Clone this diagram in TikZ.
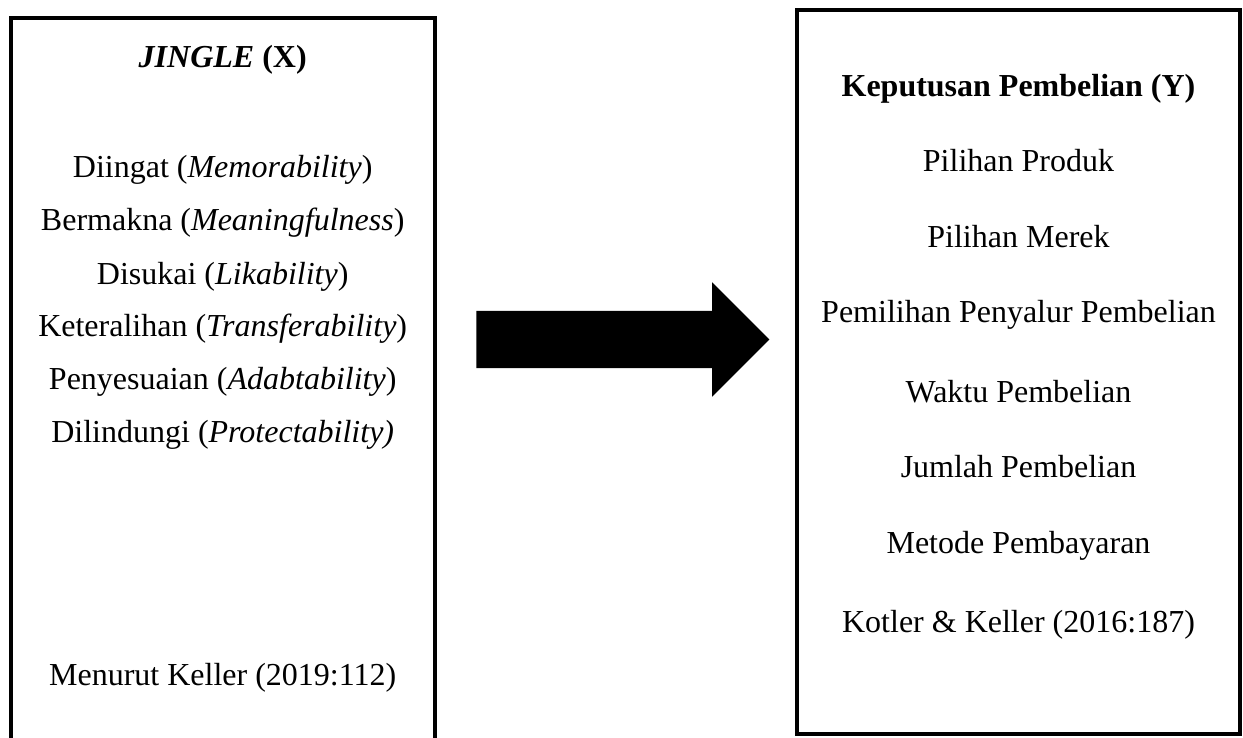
\documentclass[tikz,border=0pt]{standalone}
\usepackage{fontspec}
\setmainfont{Liberation Serif}
\usetikzlibrary{shapes.arrows}
\begin{document}
\begin{tikzpicture}[x=1pt,y=-1pt,
  framebox/.style={draw=black,line width=4pt,inner sep=0pt,outer sep=0pt},
  txt/.style={anchor=base,inner sep=0pt,font=\fontsize{32}{38}\selectfont},
  blockarrow/.style={single arrow,fill=black,draw=none,inner xsep=0pt,inner ysep=28.5pt,
    minimum height=293pt,
    single arrow head extend=28.5pt,single arrow tip angle=90,
    single arrow head indent=0pt}]
\useasboundingbox (0,0) rectangle (1243,738);
\clip (0,0) rectangle (1243,738);
% boxes
\node[framebox,minimum width=424pt,minimum height=782pt] (boxX) at (222.7,409) {};
\node[framebox,minimum width=443pt,minimum height=723.7pt] (boxY) at (1018.5,372.2) {};
% arrow
\node[blockarrow] (arr) at (608.5,339.5) {};
% left texts
\node[txt] (x0) at (222.7,68) {\textbf{\textit{JINGLE} (X)}};
\node[txt] (x1) at (222.7,178) {Diingat (\textit{Memorability})};
\node[txt] (x2) at (222.7,231) {Bermakna (\textit{Meaningfulness})};
\node[txt] (x3) at (222.7,285) {Disukai (\textit{Likability})};
\node[txt] (x4) at (222.7,336) {Keteralihan (\textit{Transferability})};
\node[txt] (x5) at (222.7,389) {Penyesuaian (\textit{Adabtability})};
\node[txt] (x6) at (222.7,442) {Dilindungi (\textit{Protectability)}};
\node[txt] (x7) at (222.7,685) {Menurut Keller (2019:112)};
% right texts
\node[txt] (y0) at (1018.5,97) {\textbf{Keputusan Pembelian (Y)}};
\node[txt] (y1) at (1018.5,172) {Pilihan Produk};
\node[txt] (y2) at (1018.5,248) {Pilihan Merek};
\node[txt] (y3) at (1018.5,323) {Pemilihan Penyalur Pembelian};
\node[txt] (y4) at (1018.5,402) {Waktu Pembelian};
\node[txt] (y5) at (1018.5,477) {Jumlah Pembelian};
\node[txt] (y6) at (1018.5,553) {Metode Pembayaran};
\node[txt] (y7) at (1018.5,632) {Kotler \& Keller (2016:187)};
\end{tikzpicture}
\end{document}
